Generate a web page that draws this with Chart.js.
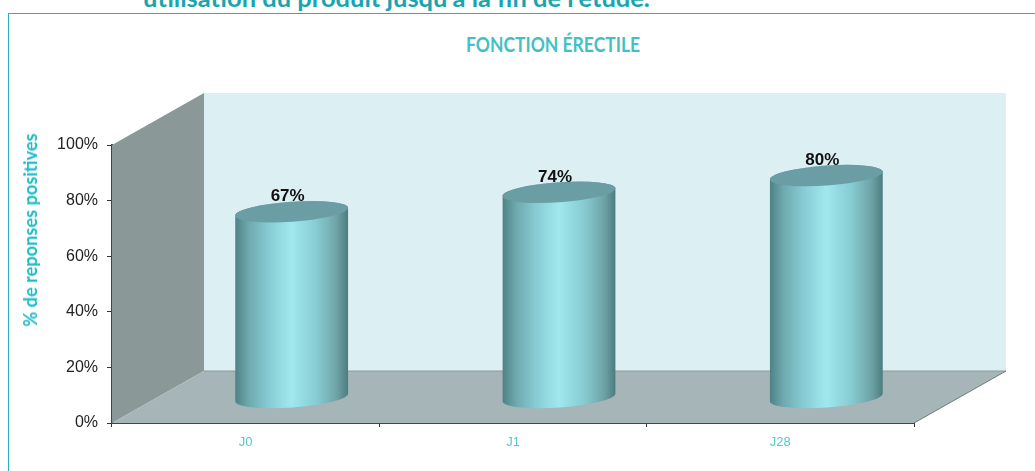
<!DOCTYPE html>
<html lang="fr">
<head>
<meta charset="utf-8">
<title>Fonction érectile</title>
<script src="https://cdn.jsdelivr.net/npm/chart.js@4"></script>
<style>
  html, body { margin: 0; padding: 0; background: #fff; overflow: hidden; }
  #wrap { position: relative; width: 1035px; height: 471px; overflow: hidden; }
  #frame { position: absolute; left: 8px; top: 13px; width: 1100px; height: 600px; border: 1px solid #2aaeb8; box-sizing: border-box; }
  #heading { position: absolute; left: 143px; top: -18px; font: bold 25.5px Lato, sans-serif; color: #1aa5ae; white-space: nowrap; }
  #title { position: absolute; left: 466px; top: 32px; font: bold 20px Lato, sans-serif; color: #45bfc6; white-space: nowrap; transform: scaleX(0.875); transform-origin: left center; }
  #ytitle { position: absolute; left: 30px; top: 229.5px; transform: translate(-50%, -50%) rotate(-90deg); font: bold 18.2px Lato, sans-serif; color: #1fbcc8; white-space: nowrap; }
  canvas { position: absolute; left: 0; top: 0; }
</style>
</head>
<body>
<div id="wrap">
  <div id="heading">utilisation du produit jusqu'à la fin de l'étude.</div>
  <div id="frame"></div>
  <div id="title">FONCTION ÉRECTILE</div>
  <canvas id="chart" width="1035" height="471"></canvas>
  <div id="ytitle">% de reponses positives</div>
</div>
<script>
/* ================================
   Data
================================ */
const categories = ["J0", "J1", "J28"];
const values = [67, 74, 80];
const yTicks = [0, 20, 40, 60, 80, 100];

/* ================================
   3D look
================================ */
const depthX = 92;
const depthY = 52;
const tilt = -0.07;
const capHeight = 10;

const drawRoom = {
  id: "drawRoom",
  beforeDatasetsDraw(chart) {
    const { ctx, chartArea: a } = chart;
    ctx.save();
    // back wall
    ctx.fillStyle = "#dcf0f4";
    ctx.fillRect(a.left + depthX, a.top - depthY, a.right - a.left, a.bottom - a.top);
    // side wall
    ctx.fillStyle = "#8a9897";
    ctx.beginPath();
    ctx.moveTo(a.left, a.top);
    ctx.lineTo(a.left + depthX, a.top - depthY);
    ctx.lineTo(a.left + depthX, a.bottom - depthY);
    ctx.lineTo(a.left, a.bottom);
    ctx.closePath();
    ctx.fill();
    // floor
    ctx.fillStyle = "#a5b5b8";
    ctx.beginPath();
    ctx.moveTo(a.left, a.bottom);
    ctx.lineTo(a.left + depthX, a.bottom - depthY);
    ctx.lineTo(a.right + depthX, a.bottom - depthY);
    ctx.lineTo(a.right, a.bottom);
    ctx.closePath();
    ctx.fill();
    ctx.strokeStyle = "#8b9a9c";
    ctx.lineWidth = 1;
    ctx.beginPath();
    ctx.moveTo(a.left + depthX, a.bottom - depthY);
    ctx.lineTo(a.right + depthX, a.bottom - depthY);
    ctx.stroke();
    ctx.strokeStyle = "#6f7b7d";
    ctx.beginPath();
    ctx.moveTo(a.right, a.bottom);
    ctx.lineTo(a.right + depthX, a.bottom - depthY);
    ctx.stroke();
    ctx.restore();
  }
};

const drawCylinders = {
  id: "drawCylinders",
  afterDatasetsDraw(chart) {
    const { ctx } = chart;
    const bars = chart.getDatasetMeta(0).data;
    ctx.save();
    bars.forEach((bar, i) => {
      const cx = bar.x + depthX / 2;
      const top = bar.y - depthY / 2 + 1;
      const bottom = bar.base - depthY / 2 + 1;
      const rx = bar.width / 2;

      const grad = ctx.createLinearGradient(cx - rx, 0, cx + rx, 0);
      grad.addColorStop(0, "#4d8286");
      grad.addColorStop(0.12, "#6ea9ae");
      grad.addColorStop(0.3, "#87ccd4");
      grad.addColorStop(0.5, "#a0e8ee");
      grad.addColorStop(0.72, "#86ccd2");
      grad.addColorStop(0.9, "#6ea3a6");
      grad.addColorStop(1, "#4c7b7e");

      ctx.fillStyle = grad;
      ctx.beginPath();
      ctx.ellipse(cx, bottom, rx, capHeight, tilt, Math.PI, 0, true);
      ctx.ellipse(cx, top, rx, capHeight, tilt, 0, Math.PI, true);
      ctx.closePath();
      ctx.fill();

      ctx.fillStyle = "#6b9da4";
      ctx.beginPath();
      ctx.ellipse(cx, top, rx, capHeight, tilt, 0, Math.PI * 2);
      ctx.fill();

      ctx.fillStyle = "#111";
      ctx.font = 'bold 17px "Liberation Sans", sans-serif';
      ctx.textAlign = "center";
      ctx.textBaseline = "middle";
      ctx.fillText(values[i] + "%", cx - 4, top - 15);
    });
    ctx.restore();
  }
};

/* ================================
   Chart
================================ */
new Chart(document.getElementById("chart"), {
  type: "bar",
  data: {
    labels: categories,
    datasets: [{
      data: values,
      backgroundColor: "rgba(0,0,0,0)",
      categoryPercentage: 0.423,
      barPercentage: 1
    }]
  },
  plugins: [drawRoom, drawCylinders],
  options: {
    responsive: false,
    animation: false,
    layout: { padding: { left: 16, top: 145, right: 121, bottom: 0 } },
    plugins: { legend: { display: false }, tooltip: { enabled: false } },
    scales: {
      x: {
        grid: { drawOnChartArea: false, color: "#333", tickLength: 4 },
        border: { color: "#444", width: 2 },
        ticks: { color: "#4fc9d3", font: { family: "Liberation Sans", size: 13 }, padding: 8 },
        afterFit(scale) { scale.height = 48; }
      },
      y: {
        min: 0,
        max: 100,
        afterBuildTicks(scale) { scale.ticks = yTicks.map(value => ({ value })); },
        grid: { drawOnChartArea: false, color: "#333", tickLength: 5 },
        border: { color: "#444", width: 2 },
        ticks: {
          color: "#222",
          font: { family: "Liberation Sans", size: 16 },
          padding: 9,
          callback: v => `${v}%`
        },
        afterFit(scale) { scale.width = 96; }
      }
    }
  }
});
</script>
</body>
</html>
